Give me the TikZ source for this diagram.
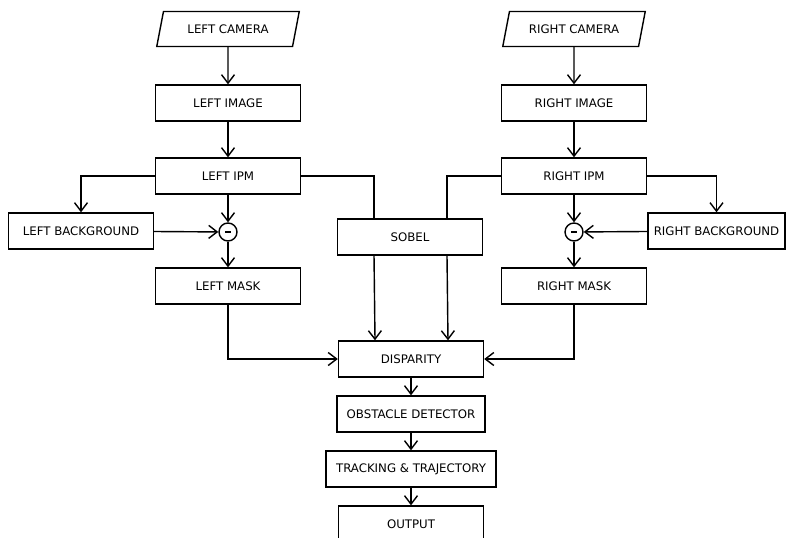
\documentclass[tikz,border=0pt]{standalone}
\usepackage{fontspec}
\setmainfont{DejaVu Sans}
\usetikzlibrary{positioning,shapes.geometric,arrows.meta}

\tikzset{
    block/.style={draw,rectangle,minimum width=2.9cm,minimum height=0.72cm,font=\fontsize{6.7}{8}\selectfont},
    camera/.style={draw,trapezium,trapezium left angle=72,trapezium right angle=108,trapezium stretches body,minimum width=2.85cm,minimum height=0.7cm,font=\fontsize{6.7}{8}\selectfont},
    minus/.style={draw,circle,minimum size=0.36cm,inner sep=0pt,
        path picture={\draw[line width=1.3pt] (-0.055cm,0) -- (0.055cm,0);}}
}

\begin{document}
\begin{tikzpicture}[x=0.02cm,y=-0.02cm,line width=0.8pt,>={Straight Barb[length=1.7mm,width=2.6mm]}]
\useasboundingbox (0,0) rectangle (786,537);

\foreach \s/\txt/\xpos in {l/LEFT/228, r/RIGHT/574} {
    \node[camera] (\s cam) at (\xpos,29) {\txt\ CAMERA};
    \node[block] (\s img) at (\xpos,103) {\txt\ IMAGE};
    \node[block] (\s ipm) at (\xpos,176) {\txt\ IPM};
    \node[minus] (\s sub) at (\xpos,232) {};
    \node[block] (\s mask) at (\xpos,286) {\txt\ MASK};
    \draw[->] (\s cam) -- (\s img);
    \draw[->] (\s img) -- (\s ipm);
    \draw[->] (\s ipm) -- (\s sub);
    \draw[->] (\s sub) -- (\s mask);
}

\node[block] (lbg) at (81,231) {LEFT BACKGROUND};
\node[block,minimum width=2.74cm] (rbg) at (716.5,231) {RIGHT BACKGROUND};
\node[block] (sobel) at (410,237) {SOBEL};
\node[block] (disp) at (411,359) {DISPARITY};
\node[block,minimum width=2.96cm] (obst) at (411,414) {OBSTACLE DETECTOR};
\node[block,minimum width=3.4cm] (track) at (411,469) {TRACKING \& TRAJECTORY};
\node[block] (out) at (411,524) {OUTPUT};

% background subtraction
\draw[->] (lipm.west) -| (lbg.north);
\draw[->] (ripm.east) -| (rbg.north);
\draw[->] (lbg) -- (lsub);
\draw[->] (rbg) -- (rsub);

% edges into sobel and disparity
\draw (lipm.east) -| ([xshift=-0.72cm]sobel.north);
\draw (ripm.west) -| ([xshift=0.74cm]sobel.north);
\draw[->] ([xshift=-0.72cm]sobel.south) -- ([xshift=-0.72cm]disp.north);
\draw[->] ([xshift=0.74cm]sobel.south) -- ([xshift=0.74cm]disp.north);
\draw[->] (lmask.south) |- (disp.west);
\draw[->] (rmask.south) |- (disp.east);

\draw[->] (disp) -- (obst);
\draw[->] (obst) -- (track);
\draw[->] (track) -- (out);
\end{tikzpicture}
\end{document}
